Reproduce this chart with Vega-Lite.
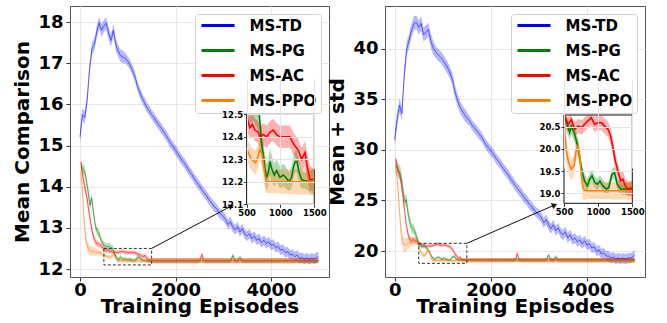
{
"$schema":"https://vega.github.io/schema/vega-lite/v6.json",
"padding":{"left":12,"top":5,"right":5,"bottom":0},
"spacing":-3,
"resolve":{"legend":{"color":"independent"}},
"datasets":{
"L":[
{"m":"MS-TD","x":0,"y":15.2,"lo":15.05,"hi":15.35},{"m":"MS-TD","x":50,"y":15.75,"lo":15.6,"hi":15.9},{"m":"MS-TD","x":100,"y":15.68,"lo":15.53,"hi":15.83},{"m":"MS-TD","x":150,"y":16.1,"lo":15.95,"hi":16.25},{"m":"MS-TD","x":200,"y":16.85,"lo":16.7,"hi":17.0},{"m":"MS-TD","x":250,"y":17.35,"lo":17.2,"hi":17.5},{"m":"MS-TD","x":300,"y":17.45,"lo":17.3,"hi":17.6},{"m":"MS-TD","x":350,"y":17.75,"lo":17.6,"hi":17.9},{"m":"MS-TD","x":400,"y":17.98,"lo":17.83,"hi":18.13},{"m":"MS-TD","x":450,"y":17.8,"lo":17.65,"hi":17.95},{"m":"MS-TD","x":500,"y":17.9,"lo":17.75,"hi":18.05},{"m":"MS-TD","x":550,"y":17.97,"lo":17.82,"hi":18.12},{"m":"MS-TD","x":600,"y":17.72,"lo":17.57,"hi":17.87},{"m":"MS-TD","x":650,"y":17.55,"lo":17.4,"hi":17.7},{"m":"MS-TD","x":700,"y":17.8,"lo":17.65,"hi":17.95},{"m":"MS-TD","x":750,"y":17.45,"lo":17.3,"hi":17.6},{"m":"MS-TD","x":800,"y":17.3,"lo":17.15,"hi":17.45},{"m":"MS-TD","x":850,"y":17.18,"lo":17.03,"hi":17.33},{"m":"MS-TD","x":900,"y":17.15,"lo":17.0,"hi":17.3},{"m":"MS-TD","x":950,"y":17.12,"lo":16.99,"hi":17.25},{"m":"MS-TD","x":1000,"y":17.05,"lo":16.93,"hi":17.17},{"m":"MS-TD","x":1050,"y":16.95,"lo":16.83,"hi":17.07},{"m":"MS-TD","x":1100,"y":16.82,"lo":16.7,"hi":16.94},{"m":"MS-TD","x":1150,"y":16.68,"lo":16.56,"hi":16.8},{"m":"MS-TD","x":1200,"y":16.45,"lo":16.33,"hi":16.57},{"m":"MS-TD","x":1250,"y":16.3,"lo":16.18,"hi":16.42},{"m":"MS-TD","x":1300,"y":16.15,"lo":16.03,"hi":16.27},{"m":"MS-TD","x":1350,"y":16.05,"lo":15.93,"hi":16.17},{"m":"MS-TD","x":1400,"y":15.92,"lo":15.8,"hi":16.04},{"m":"MS-TD","x":1450,"y":15.85,"lo":15.73,"hi":15.97},{"m":"MS-TD","x":1500,"y":15.75,"lo":15.63,"hi":15.87},{"m":"MS-TD","x":1550,"y":15.68,"lo":15.56,"hi":15.8},{"m":"MS-TD","x":1600,"y":15.58,"lo":15.46,"hi":15.7},{"m":"MS-TD","x":1650,"y":15.5,"lo":15.38,"hi":15.62},{"m":"MS-TD","x":1700,"y":15.42,"lo":15.3,"hi":15.54},{"m":"MS-TD","x":1750,"y":15.33,"lo":15.21,"hi":15.45},{"m":"MS-TD","x":1800,"y":15.25,"lo":15.13,"hi":15.37},{"m":"MS-TD","x":1850,"y":15.15,"lo":15.03,"hi":15.27},{"m":"MS-TD","x":1900,"y":15.05,"lo":14.93,"hi":15.17},{"m":"MS-TD","x":1950,"y":14.98,"lo":14.86,"hi":15.1},{"m":"MS-TD","x":2000,"y":14.88,"lo":14.76,"hi":15.0},{"m":"MS-TD","x":2050,"y":14.8,"lo":14.68,"hi":14.92},{"m":"MS-TD","x":2100,"y":14.7,"lo":14.58,"hi":14.82},{"m":"MS-TD","x":2150,"y":14.62,"lo":14.5,"hi":14.74},{"m":"MS-TD","x":2200,"y":14.55,"lo":14.43,"hi":14.67},{"m":"MS-TD","x":2250,"y":14.45,"lo":14.33,"hi":14.57},{"m":"MS-TD","x":2300,"y":14.36,"lo":14.24,"hi":14.48},{"m":"MS-TD","x":2350,"y":14.28,"lo":14.16,"hi":14.4},{"m":"MS-TD","x":2400,"y":14.18,"lo":14.06,"hi":14.3},{"m":"MS-TD","x":2450,"y":14.1,"lo":13.98,"hi":14.22},{"m":"MS-TD","x":2500,"y":14.02,"lo":13.9,"hi":14.14},{"m":"MS-TD","x":2550,"y":13.93,"lo":13.81,"hi":14.05},{"m":"MS-TD","x":2600,"y":13.85,"lo":13.73,"hi":13.97},{"m":"MS-TD","x":2650,"y":13.78,"lo":13.66,"hi":13.9},{"m":"MS-TD","x":2700,"y":13.68,"lo":13.56,"hi":13.8},{"m":"MS-TD","x":2750,"y":13.62,"lo":13.5,"hi":13.74},{"m":"MS-TD","x":2800,"y":13.52,"lo":13.4,"hi":13.64},{"m":"MS-TD","x":2850,"y":13.48,"lo":13.36,"hi":13.6},{"m":"MS-TD","x":2900,"y":13.38,"lo":13.26,"hi":13.5},{"m":"MS-TD","x":2950,"y":13.33,"lo":13.21,"hi":13.45},{"m":"MS-TD","x":3000,"y":13.28,"lo":13.16,"hi":13.4},{"m":"MS-TD","x":3050,"y":13.2,"lo":13.08,"hi":13.32},{"m":"MS-TD","x":3100,"y":13.08,"lo":12.96,"hi":13.2},{"m":"MS-TD","x":3150,"y":13.15,"lo":13.03,"hi":13.27},{"m":"MS-TD","x":3200,"y":13.02,"lo":12.9,"hi":13.14},{"m":"MS-TD","x":3250,"y":12.95,"lo":12.83,"hi":13.07},{"m":"MS-TD","x":3300,"y":13.03,"lo":12.91,"hi":13.15},{"m":"MS-TD","x":3350,"y":12.9,"lo":12.78,"hi":13.02},{"m":"MS-TD","x":3400,"y":12.98,"lo":12.86,"hi":13.1},{"m":"MS-TD","x":3450,"y":12.85,"lo":12.73,"hi":12.97},{"m":"MS-TD","x":3500,"y":12.8,"lo":12.68,"hi":12.92},{"m":"MS-TD","x":3550,"y":12.86,"lo":12.74,"hi":12.98},{"m":"MS-TD","x":3600,"y":12.74,"lo":12.62,"hi":12.86},{"m":"MS-TD","x":3650,"y":12.8,"lo":12.68,"hi":12.92},{"m":"MS-TD","x":3700,"y":12.7,"lo":12.58,"hi":12.82},{"m":"MS-TD","x":3750,"y":12.74,"lo":12.62,"hi":12.86},{"m":"MS-TD","x":3800,"y":12.64,"lo":12.52,"hi":12.76},{"m":"MS-TD","x":3850,"y":12.7,"lo":12.58,"hi":12.82},{"m":"MS-TD","x":3900,"y":12.62,"lo":12.5,"hi":12.74},{"m":"MS-TD","x":3950,"y":12.66,"lo":12.54,"hi":12.78},{"m":"MS-TD","x":4000,"y":12.58,"lo":12.46,"hi":12.7},{"m":"MS-TD","x":4050,"y":12.6,"lo":12.48,"hi":12.72},{"m":"MS-TD","x":4100,"y":12.52,"lo":12.4,"hi":12.64},{"m":"MS-TD","x":4150,"y":12.55,"lo":12.43,"hi":12.67},{"m":"MS-TD","x":4200,"y":12.46,"lo":12.34,"hi":12.58},{"m":"MS-TD","x":4250,"y":12.48,"lo":12.36,"hi":12.6},{"m":"MS-TD","x":4300,"y":12.4,"lo":12.28,"hi":12.52},{"m":"MS-TD","x":4350,"y":12.42,"lo":12.3,"hi":12.54},{"m":"MS-TD","x":4400,"y":12.34,"lo":12.22,"hi":12.46},{"m":"MS-TD","x":4450,"y":12.36,"lo":12.24,"hi":12.48},{"m":"MS-TD","x":4500,"y":12.3,"lo":12.18,"hi":12.42},{"m":"MS-TD","x":4550,"y":12.34,"lo":12.22,"hi":12.46},{"m":"MS-TD","x":4600,"y":12.26,"lo":12.14,"hi":12.38},{"m":"MS-TD","x":4650,"y":12.28,"lo":12.16,"hi":12.4},{"m":"MS-TD","x":4700,"y":12.24,"lo":12.12,"hi":12.36},{"m":"MS-TD","x":4750,"y":12.27,"lo":12.15,"hi":12.39},{"m":"MS-TD","x":4800,"y":12.23,"lo":12.11,"hi":12.35},{"m":"MS-TD","x":4850,"y":12.27,"lo":12.15,"hi":12.39},{"m":"MS-TD","x":4900,"y":12.24,"lo":12.12,"hi":12.36},{"m":"MS-TD","x":4950,"y":12.28,"lo":12.16,"hi":12.4},{"m":"MS-TD","x":4990,"y":12.3,"lo":12.18,"hi":12.42},
{"m":"MS-PG","x":20,"y":14.5,"lo":14.35,"hi":14.62},{"m":"MS-PG","x":60,"y":14.42,"lo":14.3,"hi":14.54},{"m":"MS-PG","x":100,"y":14.38,"lo":14.26,"hi":14.5},{"m":"MS-PG","x":140,"y":14.1,"lo":13.98,"hi":14.22},{"m":"MS-PG","x":175,"y":13.85,"lo":13.73,"hi":13.97},{"m":"MS-PG","x":210,"y":13.55,"lo":13.43,"hi":13.67},{"m":"MS-PG","x":245,"y":13.72,"lo":13.6,"hi":13.84},{"m":"MS-PG","x":280,"y":13.4,"lo":13.28,"hi":13.52},{"m":"MS-PG","x":320,"y":13.05,"lo":12.95,"hi":13.15},{"m":"MS-PG","x":360,"y":12.92,"lo":12.82,"hi":13.02},{"m":"MS-PG","x":400,"y":12.85,"lo":12.76,"hi":12.94},{"m":"MS-PG","x":450,"y":12.68,"lo":12.6,"hi":12.76},{"m":"MS-PG","x":500,"y":12.58,"lo":12.5,"hi":12.66},{"m":"MS-PG","x":550,"y":12.54,"lo":12.46,"hi":12.62},{"m":"MS-PG","x":600,"y":12.55,"lo":12.47,"hi":12.63},{"m":"MS-PG","x":650,"y":12.52,"lo":12.44,"hi":12.6},{"m":"MS-PG","x":687,"y":12.5,"lo":12.42,"hi":12.58},{"m":"MS-PG","x":722,"y":12.37,"lo":12.3,"hi":12.44},{"m":"MS-PG","x":751,"y":12.31,"lo":12.25,"hi":12.37},{"m":"MS-PG","x":771,"y":12.26,"lo":12.2,"hi":12.32},{"m":"MS-PG","x":796,"y":12.22,"lo":12.16,"hi":12.28},{"m":"MS-PG","x":820,"y":12.24,"lo":12.18,"hi":12.3},{"m":"MS-PG","x":845,"y":12.29,"lo":12.23,"hi":12.35},{"m":"MS-PG","x":869,"y":12.26,"lo":12.2,"hi":12.32},{"m":"MS-PG","x":909,"y":12.23,"lo":12.18,"hi":12.28},{"m":"MS-PG","x":943,"y":12.25,"lo":12.2,"hi":12.3},{"m":"MS-PG","x":993,"y":12.22,"lo":12.17,"hi":12.27},{"m":"MS-PG","x":1042,"y":12.23,"lo":12.18,"hi":12.28},{"m":"MS-PG","x":1076,"y":12.22,"lo":12.17,"hi":12.27},{"m":"MS-PG","x":1126,"y":12.2,"lo":12.16,"hi":12.24},{"m":"MS-PG","x":1165,"y":12.22,"lo":12.17,"hi":12.27},{"m":"MS-PG","x":1195,"y":12.27,"lo":12.22,"hi":12.32},{"m":"MS-PG","x":1220,"y":12.29,"lo":12.24,"hi":12.34},{"m":"MS-PG","x":1244,"y":12.29,"lo":12.24,"hi":12.34},{"m":"MS-PG","x":1278,"y":12.24,"lo":12.19,"hi":12.29},{"m":"MS-PG","x":1313,"y":12.21,"lo":12.17,"hi":12.25},{"m":"MS-PG","x":1362,"y":12.205,"lo":12.17,"hi":12.24},{"m":"MS-PG","x":1450,"y":12.2,"lo":12.15,"hi":12.25},{"m":"MS-PG","x":1500,"y":12.2,"lo":12.14,"hi":12.26},{"m":"MS-PG","x":3100,"y":12.2,"lo":12.14,"hi":12.26},{"m":"MS-PG","x":3160,"y":12.21,"lo":12.15,"hi":12.27},{"m":"MS-PG","x":3200,"y":12.33,"lo":12.27,"hi":12.39},{"m":"MS-PG","x":3240,"y":12.21,"lo":12.15,"hi":12.27},{"m":"MS-PG","x":3300,"y":12.2,"lo":12.14,"hi":12.26},{"m":"MS-PG","x":3350,"y":12.28,"lo":12.23,"hi":12.33},{"m":"MS-PG","x":3400,"y":12.2,"lo":12.14,"hi":12.26},{"m":"MS-PG","x":4990,"y":12.2,"lo":12.14,"hi":12.26},
{"m":"MS-AC","x":20,"y":14.6,"lo":14.45,"hi":14.72},{"m":"MS-AC","x":60,"y":14.25,"lo":14.12,"hi":14.38},{"m":"MS-AC","x":100,"y":14.0,"lo":13.88,"hi":14.12},{"m":"MS-AC","x":150,"y":13.7,"lo":13.58,"hi":13.82},{"m":"MS-AC","x":200,"y":13.3,"lo":13.18,"hi":13.42},{"m":"MS-AC","x":250,"y":12.95,"lo":12.85,"hi":13.05},{"m":"MS-AC","x":300,"y":12.72,"lo":12.63,"hi":12.81},{"m":"MS-AC","x":350,"y":12.62,"lo":12.54,"hi":12.7},{"m":"MS-AC","x":400,"y":12.6,"lo":12.53,"hi":12.67},{"m":"MS-AC","x":450,"y":12.55,"lo":12.48,"hi":12.62},{"m":"MS-AC","x":500,"y":12.49,"lo":12.43,"hi":12.55},{"m":"MS-AC","x":549,"y":12.44,"lo":12.39,"hi":12.49},{"m":"MS-AC","x":584,"y":12.455,"lo":12.4,"hi":12.51},{"m":"MS-AC","x":623,"y":12.43,"lo":12.38,"hi":12.48},{"m":"MS-AC","x":672,"y":12.42,"lo":12.37,"hi":12.47},{"m":"MS-AC","x":697,"y":12.4,"lo":12.35,"hi":12.45},{"m":"MS-AC","x":746,"y":12.41,"lo":12.36,"hi":12.46},{"m":"MS-AC","x":796,"y":12.4,"lo":12.35,"hi":12.45},{"m":"MS-AC","x":845,"y":12.42,"lo":12.37,"hi":12.47},{"m":"MS-AC","x":894,"y":12.43,"lo":12.38,"hi":12.48},{"m":"MS-AC","x":943,"y":12.41,"lo":12.36,"hi":12.46},{"m":"MS-AC","x":993,"y":12.4,"lo":12.35,"hi":12.45},{"m":"MS-AC","x":1067,"y":12.4,"lo":12.35,"hi":12.45},{"m":"MS-AC","x":1140,"y":12.4,"lo":12.35,"hi":12.45},{"m":"MS-AC","x":1190,"y":12.37,"lo":12.32,"hi":12.42},{"m":"MS-AC","x":1264,"y":12.34,"lo":12.29,"hi":12.39},{"m":"MS-AC","x":1313,"y":12.3,"lo":12.25,"hi":12.35},{"m":"MS-AC","x":1362,"y":12.33,"lo":12.27,"hi":12.38},{"m":"MS-AC","x":1401,"y":12.26,"lo":12.2,"hi":12.32},{"m":"MS-AC","x":1436,"y":12.21,"lo":12.16,"hi":12.27},{"m":"MS-AC","x":1485,"y":12.21,"lo":12.16,"hi":12.26},{"m":"MS-AC","x":1550,"y":12.2,"lo":12.14,"hi":12.26},{"m":"MS-AC","x":2480,"y":12.2,"lo":12.14,"hi":12.26},{"m":"MS-AC","x":2520,"y":12.23,"lo":12.17,"hi":12.29},{"m":"MS-AC","x":2550,"y":12.36,"lo":12.3,"hi":12.42},{"m":"MS-AC","x":2580,"y":12.23,"lo":12.17,"hi":12.29},{"m":"MS-AC","x":2620,"y":12.2,"lo":12.14,"hi":12.26},{"m":"MS-AC","x":4990,"y":12.2,"lo":12.14,"hi":12.26},
{"m":"MS-PPO","x":20,"y":14.35,"lo":14.2,"hi":14.5},{"m":"MS-PPO","x":50,"y":13.9,"lo":13.75,"hi":14.05},{"m":"MS-PPO","x":80,"y":13.3,"lo":13.15,"hi":13.45},{"m":"MS-PPO","x":110,"y":12.85,"lo":12.7,"hi":13.0},{"m":"MS-PPO","x":150,"y":12.55,"lo":12.42,"hi":12.68},{"m":"MS-PPO","x":200,"y":12.45,"lo":12.33,"hi":12.57},{"m":"MS-PPO","x":250,"y":12.43,"lo":12.32,"hi":12.54},{"m":"MS-PPO","x":300,"y":12.42,"lo":12.32,"hi":12.52},{"m":"MS-PPO","x":350,"y":12.41,"lo":12.33,"hi":12.49},{"m":"MS-PPO","x":400,"y":12.4,"lo":12.33,"hi":12.47},{"m":"MS-PPO","x":450,"y":12.38,"lo":12.32,"hi":12.44},{"m":"MS-PPO","x":500,"y":12.35,"lo":12.3,"hi":12.4},{"m":"MS-PPO","x":540,"y":12.32,"lo":12.27,"hi":12.37},{"m":"MS-PPO","x":574,"y":12.3,"lo":12.25,"hi":12.35},{"m":"MS-PPO","x":633,"y":12.285,"lo":12.23,"hi":12.34},{"m":"MS-PPO","x":672,"y":12.315,"lo":12.26,"hi":12.37},{"m":"MS-PPO","x":697,"y":12.345,"lo":12.29,"hi":12.4},{"m":"MS-PPO","x":731,"y":12.32,"lo":12.26,"hi":12.38},{"m":"MS-PPO","x":771,"y":12.23,"lo":12.16,"hi":12.3},{"m":"MS-PPO","x":796,"y":12.2,"lo":12.15,"hi":12.25},{"m":"MS-PPO","x":850,"y":12.2,"lo":12.15,"hi":12.25},{"m":"MS-PPO","x":1500,"y":12.2,"lo":12.14,"hi":12.26},{"m":"MS-PPO","x":4990,"y":12.2,"lo":12.14,"hi":12.26}
],
"R":[
{"m":"MS-TD","x":0,"y":31.0,"lo":30.3,"hi":31.7},{"m":"MS-TD","x":50,"y":33.0,"lo":32.3,"hi":33.7},{"m":"MS-TD","x":100,"y":34.4,"lo":33.7,"hi":35.1},{"m":"MS-TD","x":150,"y":33.6,"lo":32.9,"hi":34.3},{"m":"MS-TD","x":200,"y":37.5,"lo":36.8,"hi":38.2},{"m":"MS-TD","x":250,"y":40.0,"lo":39.3,"hi":40.7},{"m":"MS-TD","x":300,"y":40.8,"lo":40.1,"hi":41.5},{"m":"MS-TD","x":350,"y":41.8,"lo":41.1,"hi":42.5},{"m":"MS-TD","x":400,"y":42.5,"lo":41.8,"hi":43.2},{"m":"MS-TD","x":450,"y":42.6,"lo":41.9,"hi":43.3},{"m":"MS-TD","x":500,"y":42.1,"lo":41.4,"hi":42.8},{"m":"MS-TD","x":550,"y":42.5,"lo":41.8,"hi":43.2},{"m":"MS-TD","x":600,"y":41.4,"lo":40.7,"hi":42.1},{"m":"MS-TD","x":650,"y":41.6,"lo":40.9,"hi":42.3},{"m":"MS-TD","x":700,"y":41.9,"lo":41.2,"hi":42.6},{"m":"MS-TD","x":750,"y":40.8,"lo":40.1,"hi":41.5},{"m":"MS-TD","x":800,"y":40.1,"lo":39.4,"hi":40.8},{"m":"MS-TD","x":850,"y":39.7,"lo":39.1,"hi":40.3},{"m":"MS-TD","x":900,"y":39.4,"lo":38.8,"hi":40.0},{"m":"MS-TD","x":950,"y":39.2,"lo":38.6,"hi":39.8},{"m":"MS-TD","x":1000,"y":38.9,"lo":38.3,"hi":39.5},{"m":"MS-TD","x":1050,"y":38.5,"lo":37.9,"hi":39.1},{"m":"MS-TD","x":1100,"y":38.1,"lo":37.5,"hi":38.7},{"m":"MS-TD","x":1150,"y":37.6,"lo":37.0,"hi":38.2},{"m":"MS-TD","x":1200,"y":37.0,"lo":36.4,"hi":37.6},{"m":"MS-TD","x":1250,"y":35.8,"lo":35.2,"hi":36.4},{"m":"MS-TD","x":1300,"y":35.0,"lo":34.4,"hi":35.6},{"m":"MS-TD","x":1350,"y":34.3,"lo":33.7,"hi":34.9},{"m":"MS-TD","x":1400,"y":33.9,"lo":33.3,"hi":34.5},{"m":"MS-TD","x":1450,"y":33.5,"lo":32.9,"hi":34.1},{"m":"MS-TD","x":1500,"y":33.2,"lo":32.6,"hi":33.8},{"m":"MS-TD","x":1550,"y":32.9,"lo":32.4,"hi":33.4},{"m":"MS-TD","x":1600,"y":32.5,"lo":32.0,"hi":33.0},{"m":"MS-TD","x":1650,"y":32.2,"lo":31.7,"hi":32.7},{"m":"MS-TD","x":1700,"y":31.9,"lo":31.4,"hi":32.4},{"m":"MS-TD","x":1750,"y":31.6,"lo":31.1,"hi":32.1},{"m":"MS-TD","x":1800,"y":31.3,"lo":30.8,"hi":31.8},{"m":"MS-TD","x":1850,"y":30.9,"lo":30.4,"hi":31.4},{"m":"MS-TD","x":1900,"y":30.5,"lo":30.0,"hi":31.0},{"m":"MS-TD","x":1950,"y":30.2,"lo":29.7,"hi":30.7},{"m":"MS-TD","x":2000,"y":29.9,"lo":29.4,"hi":30.4},{"m":"MS-TD","x":2050,"y":29.6,"lo":29.1,"hi":30.1},{"m":"MS-TD","x":2100,"y":29.2,"lo":28.7,"hi":29.7},{"m":"MS-TD","x":2150,"y":28.9,"lo":28.4,"hi":29.4},{"m":"MS-TD","x":2200,"y":28.6,"lo":28.1,"hi":29.1},{"m":"MS-TD","x":2250,"y":28.2,"lo":27.7,"hi":28.7},{"m":"MS-TD","x":2300,"y":27.9,"lo":27.4,"hi":28.4},{"m":"MS-TD","x":2350,"y":27.6,"lo":27.1,"hi":28.1},{"m":"MS-TD","x":2400,"y":27.2,"lo":26.7,"hi":27.7},{"m":"MS-TD","x":2450,"y":26.9,"lo":26.4,"hi":27.4},{"m":"MS-TD","x":2500,"y":26.5,"lo":26.0,"hi":27.0},{"m":"MS-TD","x":2550,"y":26.2,"lo":25.7,"hi":26.7},{"m":"MS-TD","x":2600,"y":25.9,"lo":25.4,"hi":26.4},{"m":"MS-TD","x":2650,"y":25.6,"lo":25.1,"hi":26.1},{"m":"MS-TD","x":2700,"y":25.2,"lo":24.7,"hi":25.7},{"m":"MS-TD","x":2750,"y":25.0,"lo":24.5,"hi":25.5},{"m":"MS-TD","x":2800,"y":24.6,"lo":24.1,"hi":25.1},{"m":"MS-TD","x":2850,"y":24.4,"lo":23.9,"hi":24.9},{"m":"MS-TD","x":2900,"y":24.0,"lo":23.5,"hi":24.5},{"m":"MS-TD","x":2950,"y":23.8,"lo":23.3,"hi":24.3},{"m":"MS-TD","x":3000,"y":23.6,"lo":23.1,"hi":24.1},{"m":"MS-TD","x":3050,"y":23.3,"lo":22.8,"hi":23.8},{"m":"MS-TD","x":3100,"y":22.8,"lo":22.3,"hi":23.3},{"m":"MS-TD","x":3150,"y":23.1,"lo":22.6,"hi":23.6},{"m":"MS-TD","x":3200,"y":22.6,"lo":22.1,"hi":23.1},{"m":"MS-TD","x":3250,"y":22.2,"lo":21.7,"hi":22.7},{"m":"MS-TD","x":3300,"y":22.6,"lo":22.1,"hi":23.1},{"m":"MS-TD","x":3350,"y":22.0,"lo":21.5,"hi":22.5},{"m":"MS-TD","x":3400,"y":22.3,"lo":21.8,"hi":22.8},{"m":"MS-TD","x":3450,"y":21.8,"lo":21.3,"hi":22.3},{"m":"MS-TD","x":3500,"y":21.6,"lo":21.1,"hi":22.1},{"m":"MS-TD","x":3550,"y":21.9,"lo":21.4,"hi":22.4},{"m":"MS-TD","x":3600,"y":21.3,"lo":20.8,"hi":21.8},{"m":"MS-TD","x":3650,"y":21.6,"lo":21.1,"hi":22.1},{"m":"MS-TD","x":3700,"y":21.1,"lo":20.6,"hi":21.6},{"m":"MS-TD","x":3750,"y":21.3,"lo":20.8,"hi":21.8},{"m":"MS-TD","x":3800,"y":20.9,"lo":20.4,"hi":21.4},{"m":"MS-TD","x":3850,"y":21.1,"lo":20.6,"hi":21.6},{"m":"MS-TD","x":3900,"y":20.7,"lo":20.2,"hi":21.2},{"m":"MS-TD","x":3950,"y":21.0,"lo":20.5,"hi":21.5},{"m":"MS-TD","x":4000,"y":20.6,"lo":20.1,"hi":21.1},{"m":"MS-TD","x":4050,"y":20.7,"lo":20.2,"hi":21.2},{"m":"MS-TD","x":4100,"y":20.3,"lo":19.8,"hi":20.8},{"m":"MS-TD","x":4150,"y":20.4,"lo":19.9,"hi":20.9},{"m":"MS-TD","x":4200,"y":20.0,"lo":19.5,"hi":20.5},{"m":"MS-TD","x":4250,"y":20.1,"lo":19.6,"hi":20.6},{"m":"MS-TD","x":4300,"y":19.7,"lo":19.2,"hi":20.2},{"m":"MS-TD","x":4350,"y":19.8,"lo":19.3,"hi":20.3},{"m":"MS-TD","x":4400,"y":19.5,"lo":19.0,"hi":20.0},{"m":"MS-TD","x":4450,"y":19.5,"lo":19.0,"hi":20.0},{"m":"MS-TD","x":4500,"y":19.3,"lo":18.8,"hi":19.8},{"m":"MS-TD","x":4550,"y":19.4,"lo":18.9,"hi":19.9},{"m":"MS-TD","x":4600,"y":19.2,"lo":18.7,"hi":19.7},{"m":"MS-TD","x":4650,"y":19.3,"lo":18.8,"hi":19.8},{"m":"MS-TD","x":4700,"y":19.2,"lo":18.7,"hi":19.7},{"m":"MS-TD","x":4750,"y":19.3,"lo":18.8,"hi":19.8},{"m":"MS-TD","x":4800,"y":19.2,"lo":18.7,"hi":19.7},{"m":"MS-TD","x":4850,"y":19.3,"lo":18.8,"hi":19.8},{"m":"MS-TD","x":4900,"y":19.3,"lo":18.8,"hi":19.8},{"m":"MS-TD","x":4950,"y":19.4,"lo":18.9,"hi":19.9},{"m":"MS-TD","x":4990,"y":19.6,"lo":19.1,"hi":20.1},
{"m":"MS-PG","x":20,"y":28.4,"lo":27.6,"hi":29.2},{"m":"MS-PG","x":67,"y":28.0,"lo":27.3,"hi":28.7},{"m":"MS-PG","x":122,"y":27.6,"lo":26.9,"hi":28.3},{"m":"MS-PG","x":160,"y":26.5,"lo":25.9,"hi":27.1},{"m":"MS-PG","x":191,"y":25.3,"lo":24.7,"hi":25.9},{"m":"MS-PG","x":220,"y":24.8,"lo":24.2,"hi":25.4},{"m":"MS-PG","x":241,"y":25.1,"lo":24.5,"hi":25.7},{"m":"MS-PG","x":265,"y":24.2,"lo":23.6,"hi":24.8},{"m":"MS-PG","x":290,"y":23.4,"lo":22.9,"hi":23.9},{"m":"MS-PG","x":346,"y":22.3,"lo":21.8,"hi":22.8},{"m":"MS-PG","x":401,"y":22.1,"lo":21.6,"hi":22.6},{"m":"MS-PG","x":449,"y":21.5,"lo":21.1,"hi":21.9},{"m":"MS-PG","x":500,"y":20.75,"lo":20.45,"hi":21.05},{"m":"MS-PG","x":510,"y":20.7,"lo":20.45,"hi":20.95},{"m":"MS-PG","x":559,"y":20.48,"lo":20.3,"hi":20.66},{"m":"MS-PG","x":583,"y":20.37,"lo":20.2,"hi":20.54},{"m":"MS-PG","x":607,"y":20.51,"lo":20.33,"hi":20.69},{"m":"MS-PG","x":656,"y":20.33,"lo":20.15,"hi":20.51},{"m":"MS-PG","x":695,"y":20.1,"lo":19.93,"hi":20.27},{"m":"MS-PG","x":729,"y":19.81,"lo":19.65,"hi":19.97},{"m":"MS-PG","x":763,"y":19.5,"lo":19.35,"hi":19.65},{"m":"MS-PG","x":802,"y":19.28,"lo":19.13,"hi":19.43},{"m":"MS-PG","x":841,"y":19.17,"lo":19.02,"hi":19.32},{"m":"MS-PG","x":876,"y":19.32,"lo":19.18,"hi":19.46},{"m":"MS-PG","x":910,"y":19.4,"lo":19.26,"hi":19.54},{"m":"MS-PG","x":949,"y":19.25,"lo":19.12,"hi":19.38},{"m":"MS-PG","x":988,"y":19.21,"lo":19.08,"hi":19.34},{"m":"MS-PG","x":1027,"y":19.28,"lo":19.15,"hi":19.41},{"m":"MS-PG","x":1071,"y":19.17,"lo":19.04,"hi":19.3},{"m":"MS-PG","x":1120,"y":19.1,"lo":18.97,"hi":19.23},{"m":"MS-PG","x":1154,"y":19.13,"lo":19.0,"hi":19.26},{"m":"MS-PG","x":1202,"y":19.43,"lo":19.3,"hi":19.56},{"m":"MS-PG","x":1241,"y":19.47,"lo":19.34,"hi":19.6},{"m":"MS-PG","x":1280,"y":19.21,"lo":19.08,"hi":19.34},{"m":"MS-PG","x":1329,"y":19.1,"lo":18.97,"hi":19.23},{"m":"MS-PG","x":1500,"y":19.1,"lo":18.95,"hi":19.25},{"m":"MS-PG","x":3100,"y":19.1,"lo":18.88,"hi":19.32},{"m":"MS-PG","x":3160,"y":19.15,"lo":18.93,"hi":19.37},{"m":"MS-PG","x":3200,"y":19.6,"lo":19.4,"hi":19.8},{"m":"MS-PG","x":3240,"y":19.15,"lo":18.93,"hi":19.37},{"m":"MS-PG","x":3300,"y":19.1,"lo":18.88,"hi":19.32},{"m":"MS-PG","x":3350,"y":19.4,"lo":19.2,"hi":19.6},{"m":"MS-PG","x":3400,"y":19.1,"lo":18.88,"hi":19.32},{"m":"MS-PG","x":4990,"y":19.1,"lo":18.88,"hi":19.32},
{"m":"MS-AC","x":20,"y":29.1,"lo":28.7,"hi":29.5},{"m":"MS-AC","x":60,"y":28.1,"lo":27.7,"hi":28.5},{"m":"MS-AC","x":102,"y":27.6,"lo":27.2,"hi":28.0},{"m":"MS-AC","x":140,"y":26.5,"lo":26.1,"hi":26.9},{"m":"MS-AC","x":172,"y":25.3,"lo":24.9,"hi":25.7},{"m":"MS-AC","x":210,"y":23.8,"lo":23.4,"hi":24.2},{"m":"MS-AC","x":241,"y":22.6,"lo":22.2,"hi":23.0},{"m":"MS-AC","x":275,"y":21.7,"lo":21.3,"hi":22.1},{"m":"MS-AC","x":310,"y":21.15,"lo":20.8,"hi":21.5},{"m":"MS-AC","x":345,"y":21.0,"lo":20.7,"hi":21.3},{"m":"MS-AC","x":380,"y":21.15,"lo":20.85,"hi":21.45},{"m":"MS-AC","x":415,"y":21.0,"lo":20.7,"hi":21.3},{"m":"MS-AC","x":449,"y":20.99,"lo":20.7,"hi":21.28},{"m":"MS-AC","x":480,"y":20.85,"lo":20.6,"hi":21.1},{"m":"MS-AC","x":500,"y":20.76,"lo":20.58,"hi":20.98},{"m":"MS-AC","x":510,"y":20.74,"lo":20.56,"hi":20.92},{"m":"MS-AC","x":559,"y":20.55,"lo":20.38,"hi":20.72},{"m":"MS-AC","x":607,"y":20.66,"lo":20.49,"hi":20.83},{"m":"MS-AC","x":656,"y":20.44,"lo":20.28,"hi":20.6},{"m":"MS-AC","x":705,"y":20.51,"lo":20.35,"hi":20.67},{"m":"MS-AC","x":754,"y":20.48,"lo":20.32,"hi":20.64},{"m":"MS-AC","x":802,"y":20.55,"lo":20.39,"hi":20.71},{"m":"MS-AC","x":851,"y":20.63,"lo":20.47,"hi":20.79},{"m":"MS-AC","x":900,"y":20.7,"lo":20.52,"hi":20.88},{"m":"MS-AC","x":949,"y":20.55,"lo":20.38,"hi":20.72},{"m":"MS-AC","x":998,"y":20.59,"lo":20.42,"hi":20.76},{"m":"MS-AC","x":1046,"y":20.59,"lo":20.42,"hi":20.76},{"m":"MS-AC","x":1095,"y":20.51,"lo":20.34,"hi":20.68},{"m":"MS-AC","x":1144,"y":20.44,"lo":20.27,"hi":20.61},{"m":"MS-AC","x":1183,"y":20.29,"lo":20.1,"hi":20.48},{"m":"MS-AC","x":1217,"y":20.03,"lo":19.84,"hi":20.22},{"m":"MS-AC","x":1251,"y":19.73,"lo":19.54,"hi":19.92},{"m":"MS-AC","x":1290,"y":19.5,"lo":19.32,"hi":19.68},{"m":"MS-AC","x":1329,"y":19.28,"lo":19.1,"hi":19.46},{"m":"MS-AC","x":1363,"y":19.32,"lo":19.14,"hi":19.5},{"m":"MS-AC","x":1398,"y":19.17,"lo":19.0,"hi":19.34},{"m":"MS-AC","x":1437,"y":19.1,"lo":18.94,"hi":19.26},{"m":"MS-AC","x":1500,"y":19.13,"lo":18.96,"hi":19.3},{"m":"MS-AC","x":1550,"y":19.1,"lo":18.88,"hi":19.32},{"m":"MS-AC","x":2480,"y":19.1,"lo":18.88,"hi":19.32},{"m":"MS-AC","x":2520,"y":19.2,"lo":19.0,"hi":19.4},{"m":"MS-AC","x":2550,"y":19.75,"lo":19.5,"hi":20.0},{"m":"MS-AC","x":2580,"y":19.2,"lo":19.0,"hi":19.4},{"m":"MS-AC","x":2620,"y":19.1,"lo":18.88,"hi":19.32},{"m":"MS-AC","x":4990,"y":19.1,"lo":18.88,"hi":19.32},
{"m":"MS-PPO","x":20,"y":28.6,"lo":28.0,"hi":29.2},{"m":"MS-PPO","x":50,"y":27.0,"lo":26.4,"hi":27.6},{"m":"MS-PPO","x":81,"y":25.3,"lo":24.6,"hi":26.0},{"m":"MS-PPO","x":110,"y":23.3,"lo":22.6,"hi":24.0},{"m":"MS-PPO","x":137,"y":21.7,"lo":21.0,"hi":22.4},{"m":"MS-PPO","x":165,"y":20.9,"lo":20.2,"hi":21.6},{"m":"MS-PPO","x":191,"y":20.6,"lo":19.9,"hi":21.3},{"m":"MS-PPO","x":225,"y":20.55,"lo":19.9,"hi":21.2},{"m":"MS-PPO","x":260,"y":20.7,"lo":20.1,"hi":21.3},{"m":"MS-PPO","x":300,"y":20.8,"lo":20.3,"hi":21.3},{"m":"MS-PPO","x":346,"y":20.9,"lo":20.5,"hi":21.3},{"m":"MS-PPO","x":400,"y":20.95,"lo":20.6,"hi":21.3},{"m":"MS-PPO","x":449,"y":21.0,"lo":20.7,"hi":21.3},{"m":"MS-PPO","x":480,"y":20.8,"lo":20.5,"hi":21.1},{"m":"MS-PPO","x":500,"y":20.55,"lo":20.3,"hi":20.8},{"m":"MS-PPO","x":510,"y":20.4,"lo":20.15,"hi":20.65},{"m":"MS-PPO","x":534,"y":19.96,"lo":19.72,"hi":20.2},{"m":"MS-PPO","x":568,"y":19.69,"lo":19.45,"hi":19.93},{"m":"MS-PPO","x":607,"y":19.54,"lo":19.3,"hi":19.78},{"m":"MS-PPO","x":646,"y":19.62,"lo":19.4,"hi":19.84},{"m":"MS-PPO","x":680,"y":19.99,"lo":19.78,"hi":20.2},{"m":"MS-PPO","x":705,"y":20.07,"lo":19.86,"hi":20.28},{"m":"MS-PPO","x":734,"y":19.8,"lo":19.58,"hi":20.02},{"m":"MS-PPO","x":754,"y":19.43,"lo":19.2,"hi":19.66},{"m":"MS-PPO","x":778,"y":19.13,"lo":18.88,"hi":19.38},{"m":"MS-PPO","x":802,"y":19.07,"lo":18.85,"hi":19.29},{"m":"MS-PPO","x":850,"y":19.06,"lo":18.88,"hi":19.24},{"m":"MS-PPO","x":1500,"y":19.06,"lo":18.86,"hi":19.26},{"m":"MS-PPO","x":4990,"y":19.06,"lo":18.84,"hi":19.28}
],
"boxL":[{"x":500,"x2":1500,"y":12.1,"y2":12.5}],
"arrL":[{"x":1500,"y":12.5,"x2":3170,"y2":13.53}],
"boxR":[{"x":500,"x2":1500,"y":18.78,"y2":20.76}],
"arrR":[{"x":1500,"y":20.76,"x2":3326,"y2":24.55}]
},
"hconcat":[
{
"width":259,"height":271,
"resolve":{"scale":{"x":"independent","y":"independent"}},
"layer":[
{"layer":[
{"data":{"name":"L"},"mark":{"type":"area","opacity":0.28},
"encoding":{
"x":{"field":"x","type":"quantitative","scale":{"domain":[-209,5214],"nice":false,"zero":false},"axis":{"values":[0,2000,4000],"format":"d","title":"Training Episodes","grid":true,"labelFontSize":18,"titleFontSize":20,"tickSize":4,"labelPadding":0,"titlePadding":-3}},
"y":{"field":"lo","type":"quantitative","scale":{"domain":[11.806,18.389],"nice":false,"zero":false},"axis":{"values":[12,13,14,15,16,17,18],"format":"d","title":"Mean Comparison","grid":true,"labelFontSize":18,"titleFontSize":20,"tickSize":4,"labelPadding":3,"titlePadding":5}},
"y2":{"field":"hi"},
"color":{"field":"m","type":"nominal","sort":null,"scale":{"domain":["MS-TD","MS-PG","MS-AC","MS-PPO"],"range":["#0000ff","#008000","#ff0000","#ff7f0e"]},"legend":{"title":null}}}},
{"data":{"name":"L"},"mark":{"type":"line","strokeWidth":1,"opacity":0.55},
"encoding":{
"x":{"field":"x","type":"quantitative","scale":{"domain":[-209,5214],"nice":false,"zero":false}},
"y":{"field":"y","type":"quantitative","scale":{"domain":[11.806,18.389],"nice":false,"zero":false}},
"color":{"field":"m","type":"nominal","sort":null,"scale":{"domain":["MS-TD","MS-PG","MS-AC","MS-PPO"],"range":["#0000ff","#008000","#ff0000","#ff7f0e"]},"legend":{"title":null}}}},
{"data":{"name":"boxL"},"mark":{"type":"rect","fill":null,"stroke":"#333","strokeWidth":1,"strokeDash":[3,2]},
"encoding":{
"x":{"field":"x","type":"quantitative","scale":{"domain":[-209,5214],"nice":false,"zero":false}},
"x2":{"field":"x2"},
"y":{"field":"y","type":"quantitative","scale":{"domain":[11.806,18.389],"nice":false,"zero":false}},
"y2":{"field":"y2"}}},
{"data":{"name":"arrL"},"mark":{"type":"rule","color":"#111","strokeWidth":1},
"encoding":{
"x":{"field":"x","type":"quantitative","scale":{"domain":[-209,5214],"nice":false,"zero":false}},
"x2":{"field":"x2"},
"y":{"field":"y","type":"quantitative","scale":{"domain":[11.806,18.389],"nice":false,"zero":false}},
"y2":{"field":"y2"}}},
{"data":{"name":"arrL"},"mark":{"type":"point","shape":"triangle-up","filled":true,"color":"#111","opacity":1,"size":40,"angle":62},
"encoding":{
"x":{"field":"x2","type":"quantitative","scale":{"domain":[-209,5214],"nice":false,"zero":false}},
"y":{"field":"y2","type":"quantitative","scale":{"domain":[11.806,18.389],"nice":false,"zero":false}}}}
]},
{"layer":[
{"data":{"name":"boxL"},"mark":{"type":"rect","fill":"white","stroke":"#111","strokeWidth":1},
"encoding":{
"x":{"field":"x","type":"quantitative","scale":{"domain":[500,1500],"range":[176.6,244.3],"nice":false,"zero":false,"clamp":true},"axis":{"orient":"bottom","offset":-72.7,"values":[500,1000,1500],"format":"d","title":null,"grid":true,"gridColor":"#e4e4e4","labelFontSize":8.5,"tickSize":3,"labelPadding":1,"zindex":1}},
"x2":{"field":"x2"},
"y":{"field":"y","type":"quantitative","scale":{"domain":[12.1,12.5],"range":[198.3,108.3],"nice":false,"zero":false,"clamp":true},"axis":{"orient":"left","offset":-176.6,"values":[12.1,12.2,12.3,12.4,12.5],"format":".1f","title":null,"grid":true,"gridColor":"#e4e4e4","labelFontSize":8.5,"tickSize":3,"labelPadding":1,"zindex":1}},
"y2":{"field":"y2"}}},
{"data":{"name":"L"},"transform":[{"filter":"datum.m != 'MS-TD' && datum.x >= 500 && datum.x <= 1500"}],"mark":{"type":"area","opacity":0.3},
"encoding":{
"x":{"field":"x","type":"quantitative","scale":{"domain":[500,1500],"range":[176.6,244.3],"nice":false,"zero":false,"clamp":true}},
"y":{"field":"lo","type":"quantitative","scale":{"domain":[12.1,12.5],"range":[198.3,108.3],"nice":false,"zero":false,"clamp":true}},
"y2":{"field":"hi"},
"color":{"field":"m","type":"nominal","sort":null,"legend":{"title":null}}}},
{"data":{"name":"L"},"transform":[{"filter":"datum.m != 'MS-TD' && datum.x >= 500 && datum.x <= 1500 && datum.y <= 12.5"}],"mark":{"type":"line","strokeWidth":1.6},
"encoding":{
"x":{"field":"x","type":"quantitative","scale":{"domain":[500,1500],"range":[176.6,244.3],"nice":false,"zero":false,"clamp":true}},
"y":{"field":"y","type":"quantitative","scale":{"domain":[12.1,12.5],"range":[198.3,108.3],"nice":false,"zero":false,"clamp":true}},
"color":{"field":"m","type":"nominal","sort":null,"legend":{"title":null}}}}
]}
]
},
{
"width":260,"height":271,
"resolve":{"scale":{"x":"independent","y":"independent"}},
"layer":[
{"layer":[
{"data":{"name":"R"},"mark":{"type":"area","opacity":0.28},
"encoding":{
"x":{"field":"x","type":"quantitative","scale":{"domain":[-202,5206],"nice":false,"zero":false},"axis":{"values":[0,2000,4000],"format":"d","title":"Training Episodes","grid":true,"labelFontSize":18,"titleFontSize":20,"tickSize":4,"labelPadding":0,"titlePadding":-3}},
"y":{"field":"lo","type":"quantitative","scale":{"domain":[17.43,44.22],"nice":false,"zero":false},"axis":{"values":[20,25,30,35,40],"format":"d","title":"Mean + std","grid":true,"labelFontSize":18,"titleFontSize":20,"tickSize":4,"labelPadding":3,"titlePadding":5}},
"y2":{"field":"hi"},
"color":{"field":"m","type":"nominal","sort":null,"scale":{"domain":["MS-TD","MS-PG","MS-AC","MS-PPO"],"range":["#0000ff","#008000","#ff0000","#ff7f0e"]},"legend":{"title":null}}}},
{"data":{"name":"R"},"mark":{"type":"line","strokeWidth":1,"opacity":0.55},
"encoding":{
"x":{"field":"x","type":"quantitative","scale":{"domain":[-202,5206],"nice":false,"zero":false}},
"y":{"field":"y","type":"quantitative","scale":{"domain":[17.43,44.22],"nice":false,"zero":false}},
"color":{"field":"m","type":"nominal","sort":null,"scale":{"domain":["MS-TD","MS-PG","MS-AC","MS-PPO"],"range":["#0000ff","#008000","#ff0000","#ff7f0e"]},"legend":{"title":null}}}},
{"data":{"name":"boxR"},"mark":{"type":"rect","fill":null,"stroke":"#333","strokeWidth":1,"strokeDash":[3,2]},
"encoding":{
"x":{"field":"x","type":"quantitative","scale":{"domain":[-202,5206],"nice":false,"zero":false}},
"x2":{"field":"x2"},
"y":{"field":"y","type":"quantitative","scale":{"domain":[17.43,44.22],"nice":false,"zero":false}},
"y2":{"field":"y2"}}},
{"data":{"name":"arrR"},"mark":{"type":"rule","color":"#111","strokeWidth":1},
"encoding":{
"x":{"field":"x","type":"quantitative","scale":{"domain":[-202,5206],"nice":false,"zero":false}},
"x2":{"field":"x2"},
"y":{"field":"y","type":"quantitative","scale":{"domain":[17.43,44.22],"nice":false,"zero":false}},
"y2":{"field":"y2"}}},
{"data":{"name":"arrR"},"mark":{"type":"point","shape":"triangle-up","filled":true,"color":"#111","opacity":1,"size":40,"angle":67},
"encoding":{
"x":{"field":"x2","type":"quantitative","scale":{"domain":[-202,5206],"nice":false,"zero":false}},
"y":{"field":"y2","type":"quantitative","scale":{"domain":[17.43,44.22],"nice":false,"zero":false}}}}
]},
{"layer":[
{"data":{"name":"boxR"},"mark":{"type":"rect","fill":"white","stroke":"#111","strokeWidth":1},
"encoding":{
"x":{"field":"x","type":"quantitative","scale":{"domain":[500,1500],"range":[179,247.3],"nice":false,"zero":false,"clamp":true},"axis":{"orient":"bottom","offset":-73.7,"values":[500,1000,1500],"format":"d","title":null,"grid":true,"gridColor":"#e4e4e4","labelFontSize":8.5,"tickSize":3,"labelPadding":1,"zindex":1}},
"x2":{"field":"x2"},
"y":{"field":"y","type":"quantitative","scale":{"domain":[18.78,20.76],"range":[197.3,109],"nice":false,"zero":false,"clamp":true},"axis":{"orient":"left","offset":-179,"values":[19.0,19.5,20.0,20.5],"format":".1f","title":null,"grid":true,"gridColor":"#e4e4e4","labelFontSize":8.5,"tickSize":3,"labelPadding":1,"zindex":1}},
"y2":{"field":"y2"}}},
{"data":{"name":"R"},"transform":[{"filter":"datum.m != 'MS-TD' && datum.x >= 500 && datum.x <= 1500"}],"mark":{"type":"area","opacity":0.3},
"encoding":{
"x":{"field":"x","type":"quantitative","scale":{"domain":[500,1500],"range":[179,247.3],"nice":false,"zero":false,"clamp":true}},
"y":{"field":"lo","type":"quantitative","scale":{"domain":[18.78,20.76],"range":[197.3,109],"nice":false,"zero":false,"clamp":true}},
"y2":{"field":"hi"},
"color":{"field":"m","type":"nominal","sort":null,"legend":{"title":null}}}},
{"data":{"name":"R"},"transform":[{"filter":"datum.m != 'MS-TD' && datum.x >= 500 && datum.x <= 1500 && datum.y <= 20.76"}],"mark":{"type":"line","strokeWidth":1.6},
"encoding":{
"x":{"field":"x","type":"quantitative","scale":{"domain":[500,1500],"range":[179,247.3],"nice":false,"zero":false,"clamp":true}},
"y":{"field":"y","type":"quantitative","scale":{"domain":[18.78,20.76],"range":[197.3,109],"nice":false,"zero":false,"clamp":true}},
"color":{"field":"m","type":"nominal","sort":null,"legend":{"title":null}}}}
]}
]
}
],
"config":{
"font":"DejaVu Sans",
"view":{"stroke":"#555","strokeWidth":1},
"axis":{"labelFont":"DejaVu Sans","labelFontWeight":"bold","labelColor":"#000","titleFont":"DejaVu Sans","titleFontWeight":"bold","titleColor":"#000","tickColor":"#333","domain":false,"gridColor":"#e8e8e8","labelFlush":false,"labelOverlap":false},
"legend":{"orient":"top-right","offset":8,"labelFont":"DejaVu Sans","labelFontWeight":"bold","labelFontSize":15,"labelColor":"#000","symbolType":"M-3.3,0H3.3","symbolStrokeWidth":3,"symbolSize":100,"symbolOpacity":1,"symbolOffset":11.5,"strokeColor":"#d0d0d0","fillColor":"white","padding":4,"cornerRadius":3,"rowPadding":9,"labelOffset":24}
}
}
